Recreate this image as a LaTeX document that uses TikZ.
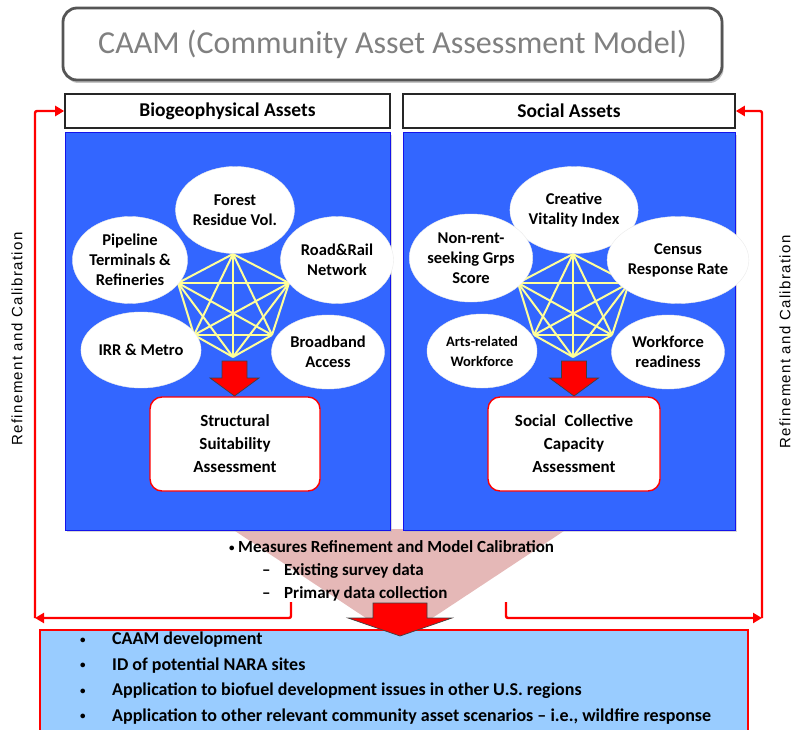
\documentclass[tikz,border=0pt]{standalone}
\usepackage{fontspec}
\setmainfont{Carlito}
\newfontfamily\arialf{Liberation Sans}[LetterSpace=9]
\usetikzlibrary{shapes.geometric,arrows.meta,shadows}
\definecolor{panelblue}{RGB}{51,102,255}
\definecolor{paneledge}{RGB}{20,20,235}
\definecolor{lightblue}{RGB}{153,204,255}
\definecolor{funnelpink}{RGB}{229,184,183}
\definecolor{netyellow}{RGB}{255,255,153}
\definecolor{titlegray}{RGB}{128,128,128}
\definecolor{framegray}{RGB}{85,85,85}
\newcommand{\smallbul}{\raisebox{0.15ex}{\fontsize{11}{11}\selectfont•}}
\begin{document}
\begin{tikzpicture}[x=1pt,y=-1pt,
  titlebox/.style={draw=framegray, line width=2.8pt, fill=white, rounded corners=14pt,
    minimum width=659pt, minimum height=72pt,
    drop shadow={shadow xshift=1.5pt,shadow yshift=-3pt,fill=black!45},
    font=\fontsize{32}{38}\selectfont, text=titlegray},
  header/.style={draw=black!85, line width=1.6pt, fill=white, minimum height=34pt,
    inner sep=0pt, font=\fontsize{19.5}{24}\selectfont\bfseries},
  panel/.style={draw=paneledge, line width=1pt, fill=panelblue, minimum height=397pt, inner sep=0pt,
    drop shadow={shadow xshift=1.5pt,shadow yshift=-2pt,fill=black!30}},
  asset/.style={ellipse, fill=white, draw=black!8, minimum width=113pt, minimum height=87pt,
    inner sep=0pt, align=center, font=\fontsize{16.5}{20}\selectfont\bfseries},
  net/.style={draw=netyellow, line width=2pt},
  blockarrow/.style={fill=red, draw=black!75, line width=0.7pt, line join=miter},
  assess/.style={draw=red, line width=1.4pt, fill=white, rounded corners=12pt,
    minimum height=94pt, inner sep=0pt, align=center, font=\fontsize{17}{23}\selectfont\bfseries},
  fb/.style={draw=red, line width=2.4pt, rounded corners=2pt, -{Triangle[length=9pt,width=10pt]}},
  sidelabel/.style={rotate=90, font=\arialf\fontsize{15}{18}\selectfont},
  outbox/.style={draw=red, line width=1.4pt, fill=lightblue, minimum width=708pt, minimum height=106pt, inner sep=0pt}
]
\useasboundingbox (0,0) rectangle (792,730);

% title
\node[titlebox] (title) at (392.5,44) {CAAM (Community Asset Assessment Model)};

% funnel behind panels
\fill[funnelpink] (232,529) -- (567,529) -- (399,640) -- cycle;

% headers
\node[header, minimum width=325pt] (bioh) at (227.5,111) {Biogeophysical Assets};
\node[header, minimum width=332pt] (soch) at (569,111) {Social Assets};

% panels
\node[panel, minimum width=325pt] (biop) at (227.5,331.5) {};
\node[panel, minimum width=332pt] (socp) at (569,331.5) {};

% networks
\coordinate (a1) at (233,254); \coordinate (a2) at (289,283); \coordinate (a3) at (272,335);
\coordinate (a4) at (233,357); \coordinate (a5) at (194,335); \coordinate (a6) at (178,283);
\coordinate (b1) at (573,254); \coordinate (b2) at (629,283); \coordinate (b3) at (612,335);
\coordinate (b4) at (573,357); \coordinate (b5) at (534,335); \coordinate (b6) at (518,283);
\foreach \i in {1,...,6}{\foreach \j in {1,...,6}{\ifnum\i<\j
  \draw[net] (a\i) -- (a\j); \draw[net] (b\i) -- (b\j);\fi}}

% biogeophysical assets
\node[asset] (forest) at (235,210) {Forest\\Residue Vol.};
\node[asset] (pipe) at (130,260) {Pipeline\\Terminals \&\\Refineries};
\node[asset] (road) at (337,260) {Road\&Rail\\Network};
\node[asset, minimum width=108pt, minimum height=76pt] (irr) at (141,350) {IRR \& Metro};
\node[asset, minimum height=74pt] (broad) at (328,352) {Broadband\\Access};

% social assets
\node[asset] (creative) at (574,210) {Creative\\Vitality Index};
\node[asset, minimum height=88pt] (nonrent) at (471,258) {Non-rent-\\seeking Grps\\Score};
\node[asset] (census) at (678,260) {Census\\Response Rate};
\node[asset, minimum width=110pt, minimum height=74pt, font=\fontsize{14.5}{20}\selectfont\bfseries] (arts) at (482,351) {Arts-related\\Workforce};
\node[asset, minimum height=74pt] (ready) at (668,352) {Workforce\\readiness};

% small block arrows
\filldraw[blockarrow] (222,361) -- (247,361) -- (247,378) -- (259,378) -- (234.5,396) -- (210,378) -- (222,378) -- cycle;
\filldraw[blockarrow] (561.5,361) -- (586.5,361) -- (586.5,378) -- (598.5,378) -- (574,396) -- (549.5,378) -- (561.5,378) -- cycle;

% assessment boxes
\node[assess, minimum width=170pt] (ssa) at (235,444) {Structural\\Suitability\\Assessment};
\node[assess, minimum width=172pt] (scc) at (574,444) {Social\enspace Collective\\Capacity\\Assessment};

% measures text
\node[anchor=west, inner sep=0pt, align=left, font=\fontsize{17}{23}\selectfont\bfseries] (meas) at (229,571)
  {\makebox[9pt][l]{\smallbul}Measures Refinement and Model Calibration\\
   \hspace*{33pt}\makebox[22pt][l]{–}Existing survey data\\
   \hspace*{33pt}\makebox[22pt][l]{–}Primary data collection};

% output box
\node[outbox] (out) at (394,683) {};
\node[anchor=west, inner sep=0pt, align=left, font=\fontsize{18}{25.5}\selectfont\bfseries] (outtext) at (80,678)
  {\makebox[32pt][l]{\smallbul}CAAM development\\
   \makebox[32pt][l]{\smallbul}ID of potential NARA sites\\
   \makebox[32pt][l]{\smallbul}Application to biofuel development issues in other U.S. regions\\
   \makebox[32pt][l]{\smallbul}Application to other relevant community asset scenarios -- i.e., wildfire response};

% big block arrow
\filldraw[blockarrow] (373,603) -- (427,603) -- (427,618) -- (452,618) -- (400,636) -- (348,618) -- (373,618) -- cycle;

% feedback connectors
\coordinate (lstart) at (291,602);
\coordinate (lcorner) at (35,618);
\coordinate (rstart) at (506,602);
\coordinate (rcorner) at (762,618);
\draw[fb] (lstart) |- (lcorner);
\draw[fb] (lcorner) |- (bioh.west);
\draw[fb] (rstart) |- (rcorner);
\draw[fb] (rcorner) |- (soch.east);

% side labels
\node[sidelabel] (vl) at (17,339) {Refinement and Calibration};
\node[sidelabel] (vr) at (785,342) {Refinement and Calibration};
\end{tikzpicture}
\end{document}
